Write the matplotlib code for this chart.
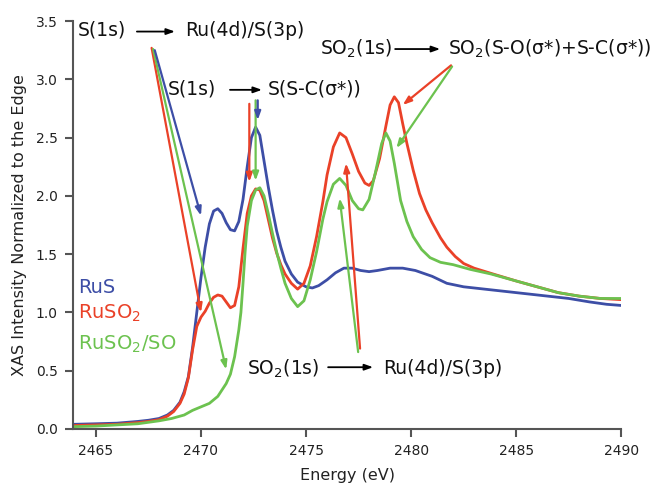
"""XAS spectra of RuS, RuSO2 and RuSO2/SO at the S K-edge."""

import matplotlib
matplotlib.use('Agg')
import matplotlib.pyplot as plt


# ----------------------------------------------------------------------------
# Data

rus_e = [2463.9, 2465, 2466, 2467, 2467.5, 2468, 2468.4, 2468.7, 2469.0,
         2469.2, 2469.4, 2469.6, 2469.8, 2470.0, 2470.2, 2470.4, 2470.6,
         2470.8, 2471.0, 2471.2, 2471.4, 2471.6, 2471.8, 2472.0, 2472.2,
         2472.4, 2472.6, 2472.8, 2473.0, 2473.2, 2473.4, 2473.6, 2473.8,
         2474.0, 2474.3, 2474.6, 2475.0, 2475.3, 2475.6, 2476.0, 2476.4,
         2476.8, 2477.2, 2477.6, 2478.0, 2478.4, 2479.0, 2479.6, 2480.2,
         2481.0, 2481.7, 2482.5, 2483.5, 2484.5, 2485.5, 2486.5, 2487.5,
         2488.5, 2489.3, 2490]
rus_v = [0.04, 0.045, 0.05, 0.065, 0.075, 0.09, 0.12, 0.16, 0.23,
         0.32, 0.45, 0.70, 1.00, 1.30, 1.56, 1.76, 1.87,
         1.89, 1.85, 1.77, 1.71, 1.70, 1.78, 1.97, 2.25,
         2.50, 2.59, 2.52, 2.30, 2.08, 1.88, 1.70, 1.56,
         1.44, 1.33, 1.26, 1.22, 1.21, 1.23, 1.28, 1.34,
         1.38, 1.38, 1.36, 1.35, 1.36, 1.38, 1.38, 1.36,
         1.31, 1.25, 1.22, 1.20, 1.18, 1.16, 1.14, 1.12,
         1.09, 1.07, 1.06]

ruso2_e = [2463.9, 2465, 2466, 2467, 2467.5, 2468, 2468.4, 2468.7, 2469.0,
           2469.2, 2469.4, 2469.6, 2469.8, 2470.0, 2470.2, 2470.4, 2470.6,
           2470.8, 2471.0, 2471.2, 2471.4, 2471.6, 2471.8, 2472.0, 2472.2,
           2472.4, 2472.6, 2472.8, 2473.0, 2473.2, 2473.4, 2473.6, 2473.8,
           2474.0, 2474.3, 2474.6, 2474.9, 2475.2, 2475.5, 2475.8, 2476.0,
           2476.3, 2476.6, 2476.9, 2477.2, 2477.5, 2477.8, 2478.0, 2478.2,
           2478.5, 2478.8, 2479.0, 2479.2, 2479.4, 2479.6, 2479.8, 2480.1,
           2480.4, 2480.7, 2481.0, 2481.4, 2481.7, 2482.1, 2482.5, 2483.0,
           2483.9, 2485.0, 2486.0, 2487.0, 2488.0, 2489.0, 2490]
ruso2_v = [0.03, 0.035, 0.04, 0.055, 0.065, 0.08, 0.11, 0.15, 0.22,
           0.30, 0.44, 0.68, 0.88, 0.96, 1.01, 1.08, 1.13,
           1.15, 1.14, 1.09, 1.04, 1.06, 1.22, 1.55, 1.85,
           2.00, 2.06, 2.05, 1.96, 1.80, 1.64, 1.51, 1.41,
           1.33, 1.25, 1.20, 1.25, 1.40, 1.65, 1.95, 2.18,
           2.42, 2.54, 2.50, 2.36, 2.21, 2.11, 2.09, 2.13,
           2.32, 2.60, 2.78, 2.85, 2.80, 2.62, 2.45, 2.22,
           2.02, 1.88, 1.77, 1.64, 1.56, 1.48, 1.42, 1.38,
           1.33, 1.27, 1.22, 1.17, 1.14, 1.12, 1.11]

ruso2so_e = [2463.9, 2465, 2466, 2467, 2468, 2468.6, 2469.2, 2469.6, 2470.0,
             2470.4, 2470.8, 2471.2, 2471.4, 2471.6, 2471.8, 2471.9, 2472.0,
             2472.1, 2472.2, 2472.4, 2472.6, 2472.8, 2473.0, 2473.2, 2473.4,
             2473.6, 2473.8, 2474.0, 2474.3, 2474.6, 2474.9, 2475.2, 2475.5,
             2475.8, 2476.0, 2476.3, 2476.6, 2476.9, 2477.2, 2477.5, 2477.7,
             2478.0, 2478.3, 2478.6, 2478.8, 2479.0, 2479.2, 2479.5, 2479.8,
             2480.1, 2480.5, 2480.9, 2481.4, 2482.0, 2482.8, 2483.8, 2485.0,
             2486.0, 2487.0, 2488.0, 2489.0, 2490]
ruso2so_v = [0.02, 0.025, 0.035, 0.045, 0.07, 0.09, 0.12, 0.16, 0.19,
             0.22, 0.28, 0.39, 0.47, 0.62, 0.85, 1.00, 1.25,
             1.52, 1.74, 1.96, 2.05, 2.07, 2.00, 1.85, 1.68,
             1.52, 1.38, 1.25, 1.12, 1.05, 1.10, 1.28, 1.52,
             1.80, 1.95, 2.10, 2.15, 2.09, 1.96, 1.89, 1.88,
             1.97, 2.20, 2.45, 2.54, 2.47, 2.28, 1.96, 1.78,
             1.65, 1.54, 1.47, 1.43, 1.41, 1.37, 1.33, 1.27,
             1.22, 1.17, 1.14, 1.12, 1.12]

x_ticks = [2465, 2470, 2475, 2480, 2485, 2490]
y_ticks = [0.0, 0.5, 1.0, 1.5, 2.0, 2.5, 3.0, 3.5]

BLUE = '#3d4ea6'
RED = '#ea4128'
GREEN = '#6cc24f'


# ----------------------------------------------------------------------------
# helpers


def _arrow(ax, start, end, color, lw=1.6):
    ax.annotate(
        '', xy=end, xytext=start,
        arrowprops=dict(arrowstyle='-|>,head_length=0.5,head_width=0.18',
                        color=color, lw=lw, shrinkA=0, shrinkB=0)
        )


# ----------------------------------------------------------------------------
# Figure

fig = plt.figure(figsize=(6.56, 4.90), dpi=100)
ax = fig.add_axes([0.111, 0.1245, 0.836, 0.8325])

ax.plot(rus_e, rus_v, color=BLUE, lw=2)
ax.plot(ruso2_e, ruso2_v, color=RED, lw=2)
ax.plot(ruso2so_e, ruso2so_v, color=GREEN, lw=2)

ax.set_xlim(2463.9, 2490)
ax.set_ylim(0, 3.5)
ax.set_xticks(x_ticks)
ax.set_yticks(y_ticks)
ax.set_yticklabels(['{:.1f}'.format(t) for t in y_ticks])

for side in ('top', 'right'):
    ax.spines[side].set_visible(False)
for side in ('left', 'bottom'):
    ax.spines[side].set_color('#555555')
    ax.spines[side].set_linewidth(1.5)
ax.tick_params(direction='out', length=6, width=1.5, color='#555555',
               labelsize=10, labelcolor='#222222', pad=5)

ax.set_xlabel('Energy (eV)', fontsize=11.5, color='#222222', labelpad=7)
ax.set_ylabel('XAS Intensity Normalized to the Edge', fontsize=11.5,
              color='#222222', labelpad=6)

# Transition labels ------------------------------------------------------
txt = dict(fontsize=13.5, color='#111111', va='center', ha='left')

ax.text(2464.14, 3.42, 'S(1s)', **txt)
_arrow(ax, (2466.95, 3.41), (2468.76, 3.41), 'black', lw=1.3)
ax.text(2469.24, 3.42, 'Ru(4d)/S(3p)', **txt)

ax.text(2468.43, 2.92, 'S(1s)', **txt)
_arrow(ax, (2471.38, 2.91), (2472.9, 2.91), 'black', lw=1.3)
ax.text(2473.19, 2.92, 'S(S-C(σ*))', **txt)

ax.text(2475.67, 3.26, r'SO$_2$(1s)', **txt)
_arrow(ax, (2479.24, 3.26), (2481.38, 3.26), 'black', lw=1.3)
ax.text(2481.76, 3.26, r'SO$_2$(S-O(σ*)+S-C(σ*))', **txt)

ax.text(2472.19, 0.52, r'SO$_2$(1s)', **txt)
_arrow(ax, (2476.05, 0.53), (2478.19, 0.53), 'black', lw=1.3)
ax.text(2478.67, 0.52, 'Ru(4d)/S(3p)', **txt)

# Coloured pointers ------------------------------------------------------
_arrow(ax, (2467.65, 3.27), (2470.0, 1.00), RED)
_arrow(ax, (2467.72, 3.26), (2471.2, 0.51), GREEN)
_arrow(ax, (2467.8, 3.25), (2470.0, 1.83), BLUE)

_arrow(ax, (2472.3, 2.79), (2472.3, 2.12), RED)
_arrow(ax, (2472.6, 2.82), (2472.6, 2.13), GREEN)
_arrow(ax, (2472.7, 2.82), (2472.7, 2.65), BLUE)

_arrow(ax, (2481.9, 3.12), (2479.6, 2.78), RED)
_arrow(ax, (2481.95, 3.11), (2479.3, 2.41), GREEN)

_arrow(ax, (2477.57, 0.69), (2476.9, 2.28), RED)
_arrow(ax, (2477.48, 0.66), (2476.6, 1.98), GREEN)

# Legend as coloured text ------------------------------------------------
leg = dict(fontsize=14, va='center', ha='left')
ax.text(2464.14, 1.21, 'RuS', color=BLUE, **leg)
ax.text(2464.14, 0.99, r'RuSO$_2$', color=RED, **leg)
ax.text(2464.14, 0.73, r'RuSO$_2$/SO', color=GREEN, **leg)

fig.savefig('out.png', dpi=100)
